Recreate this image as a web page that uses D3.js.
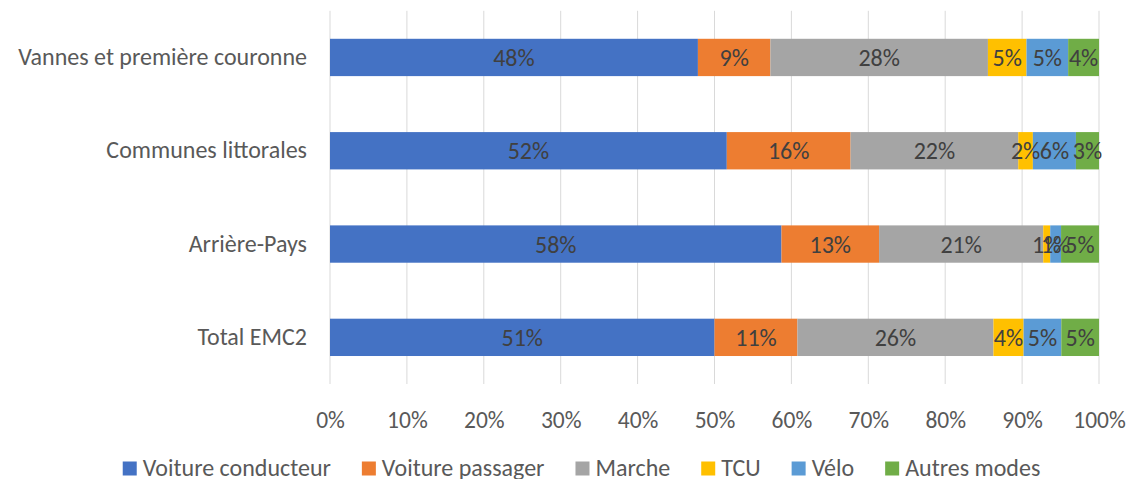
<!DOCTYPE html>
<html>
<head>
<meta charset="utf-8">
<script src="https://cdn.jsdelivr.net/npm/d3@7"></script>
<style>
  body { margin: 0; background: #fff; }
  text { font-family: Carlito, Lato, sans-serif; }
</style>
</head>
<body>
<div id="my_dataviz"></div>
<script>
// data (bars are normalised to 100% per row, labels show the raw value)
var categories = ["Vannes et première couronne", "Communes littorales", "Arrière-Pays", "Total EMC2"];
var modes = ["Voiture conducteur", "Voiture passager", "Marche", "TCU", "Vélo", "Autres modes"];
var colors = ["#4472C4", "#ED7D31", "#A5A5A5", "#FFC000", "#5B9BD5", "#70AD47"];
var vannes = [47.7, 9.4, 28.2, 5.0, 5.4, 4.0];
var littorales = [51.6, 16.1, 21.8, 1.9, 5.6, 3.0];
var arrierePays = [58.3, 12.6, 21.2, 0.9, 1.4, 4.9];
var totalEmc2 = [51.0, 11.0, 26.0, 4.0, 5.0, 5.0];
var xTicks = [0, 0.1, 0.2, 0.3, 0.4, 0.5, 0.6, 0.7, 0.8, 0.9, 1];

var rows = [vannes, littorales, arrierePays, totalEmc2];

// set the dimensions and margins of the graph
var W = 1130, H = 479;
var margin = {top: 10.8, right: 31, bottom: 95, left: 330},
    width = W - margin.left - margin.right,
    height = H - margin.top - margin.bottom;

var svg = d3.select("#my_dataviz")
  .append("svg")
    .attr("width", W)
    .attr("height", H);

var g = svg.append("g")
    .attr("transform", "translate(" + margin.left + "," + margin.top + ")");

var x = d3.scaleLinear().domain([0, 1]).range([0, width]);
var y = d3.scaleBand().domain(categories).range([0, height])
    .paddingInner(0.6).paddingOuter(0.3);

// gridlines
g.append("g")
  .selectAll("line")
  .data(xTicks)
  .enter()
  .append("line")
    .attr("x1", function(d) { return x(d); })
    .attr("x2", function(d) { return x(d); })
    .attr("y1", 0)
    .attr("y2", height)
    .style("stroke", "#d9d9d9")
    .style("stroke-width", 1);

// X axis labels
var xAxis = g.append("g")
  .attr("transform", "translate(0," + height + ")")
  .call(d3.axisBottom(x).tickValues(xTicks).tickFormat(d3.format(".0%")).tickSize(0).tickPadding(0));
xAxis.select(".domain").remove();
xAxis.selectAll("text")
  .attr("y", 44)
  .attr("dy", null)
  .style("font-size", "23.5px")
  .style("fill", "#595959");

// Y axis labels
var yAxis = g.append("g")
  .call(d3.axisLeft(y).tickSize(0).tickPadding(23));
yAxis.select(".domain").remove();
yAxis.selectAll("text")
  .style("font-size", "24px")
  .style("fill", "#595959");

// stacked segments
var segs = [];
rows.forEach(function(vals, i) {
  var sum = d3.sum(vals), acc = 0;
  vals.forEach(function(v, j) {
    segs.push({cat: categories[i], mode: j, raw: v, x0: acc / sum, x1: (acc + v) / sum});
    acc += v;
  });
});

g.append("g")
  .selectAll("rect")
  .data(segs)
  .enter()
  .append("rect")
    .attr("x", function(d) { return x(d.x0); })
    .attr("width", function(d) { return x(d.x1) - x(d.x0); })
    .attr("y", function(d) { return y(d.cat); })
    .attr("height", y.bandwidth())
    .style("fill", function(d) { return colors[d.mode]; });

g.append("g")
  .selectAll("text")
  .data(segs)
  .enter()
  .append("text")
    .attr("x", function(d) { return x((d.x0 + d.x1) / 2); })
    .attr("y", function(d) { return y(d.cat) + y.bandwidth() / 2; })
    .attr("dy", "0.36em")
    .attr("text-anchor", "middle")
    .style("font-size", "24px")
    .style("fill", "#404040")
    .text(function(d) { return Math.round(d.raw) + "%"; });

// legend
var legend = svg.append("g");
var lx = 0;
modes.forEach(function(m, i) {
  var item = legend.append("g").attr("transform", "translate(" + lx + ",0)");
  item.append("rect")
    .attr("x", 0).attr("y", 461.5)
    .attr("width", 14).attr("height", 14)
    .style("fill", colors[i]);
  var t = item.append("text")
    .attr("x", 20).attr("y", 476)
    .style("font-size", "24px")
    .style("fill", "#595959")
    .text(m);
  lx += 20 + t.node().getComputedTextLength() + 31;
});
lx -= 31;
legend.attr("transform", "translate(" + (581.5 - lx / 2) + ",0)");
</script>
</body>
</html>
